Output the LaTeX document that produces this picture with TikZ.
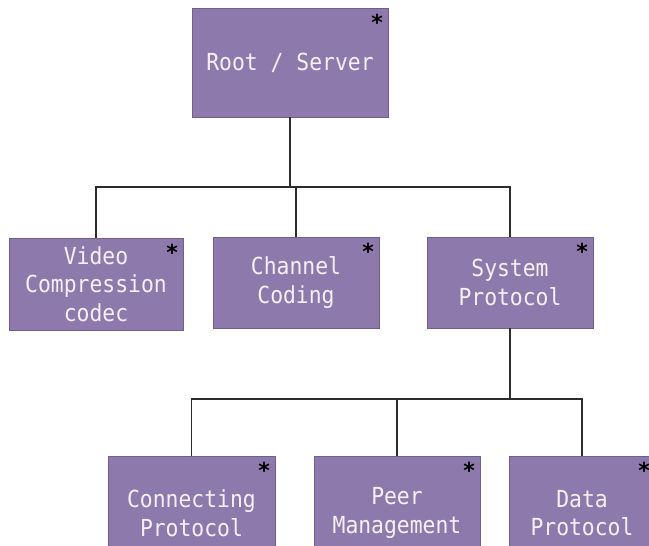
\documentclass[tikz,border=0pt]{standalone}
\usepackage{fontspec}
\newfontfamily\boxfont[FakeStretch=0.91]{DejaVu Sans Mono}
\newfontfamily\starfont{DejaVu Sans}
\definecolor{boxfill}{RGB}{142,121,172}
\definecolor{boxedge}{RGB}{112,94,142}
\definecolor{boxtext}{RGB}{246,240,246}
\definecolor{wire}{RGB}{45,45,45}
\begin{document}
\begin{tikzpicture}[x=1pt,y=-1pt,
  unit/.style={draw=boxedge, line width=0.8pt, fill=boxfill, text=boxtext,
    font=\boxfont\fontsize{23.5}{28.5}\selectfont, align=center,
    inner sep=0pt, outer sep=0pt},
  astk/.style={font=\starfont\bfseries\fontsize{22}{22}\selectfont, text=black,
    inner sep=0pt, anchor=north east},
  wiring/.style={draw=wire, line width=1.5pt}]
\useasboundingbox (0,0) rectangle (649,546);
\clip (0,0) rectangle (649,546);
% level 1
\node[unit, minimum width=196pt, minimum height=109pt] (root) at (290,62.5) {Root / Server};
% level 2
\node[unit, minimum width=174pt, minimum height=92pt] (video) at (96,284) {Video\\Compression\\codec};
\node[unit, minimum width=166pt, minimum height=91pt] (channel) at (296,282.5) {Channel\\Coding};
\node[unit, minimum width=166pt, minimum height=91pt] (system) at (510,282.5) {System\\Protocol};
% level 3
\node[unit, minimum width=167pt, minimum height=114pt] (connp) at (191.5,513) {Connecting\\Protocol};
\node[unit, minimum width=166pt, minimum height=114pt] (peer) at (397,513) {Peer\\Management};
\node[unit, minimum width=146pt, minimum height=114pt] (datap) at (582,513) {Data\\Protocol};
% stars
\foreach \n in {root,video,channel,system,connp,peer,datap}{
  \node[astk] (star-\n) at ([xshift=-5pt,yshift=-6pt]\n.north east) {*};
}
% buses
\coordinate (busA) at (290,187);
\coordinate (busB) at (510,399);
\draw[wiring] (root.south) -- (busA);
\draw[wiring] (video.north) |- (busA) -| (system.north);
\draw[wiring] (channel.north) -- (channel.north |- busA);
\draw[wiring] (system.south) -- (busB);
\draw[wiring] (connp.north) |- (busB) -| (datap.north);
\draw[wiring] (peer.north) -- (peer.north |- busB);
\end{tikzpicture}
\end{document}
